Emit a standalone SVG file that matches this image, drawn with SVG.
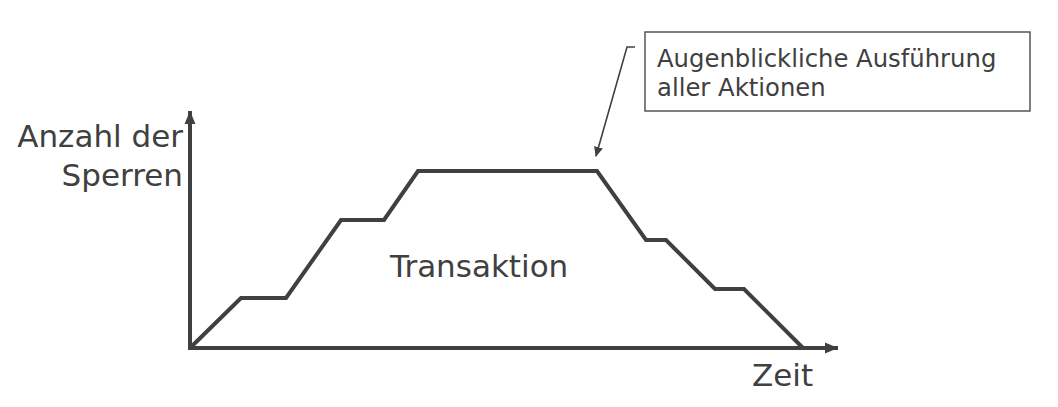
<svg xmlns="http://www.w3.org/2000/svg" width="1058" height="407" viewBox="0 0 1058 407">
<style>
.lbl{font-family:"DejaVu Sans",Verdana,sans-serif;fill:#404040}
.ax{stroke:#404040;stroke-width:4;fill:none}
.curve{stroke:#404040;stroke-width:4;fill:none;stroke-linejoin:miter}
.thin{stroke:#404040;stroke-width:1.6;fill:none}
</style>
<defs>
<marker id="ah" markerWidth="14" markerHeight="12" refX="13" refY="6" orient="auto" markerUnits="userSpaceOnUse">
<path d="M0,0.5 L13,6 L0,11.5 Z" fill="#404040"/>
</marker>
<marker id="ahs" markerWidth="10" markerHeight="10" refX="9" refY="5" orient="auto" markerUnits="userSpaceOnUse">
<path d="M0,0.5 L10,5 L0,9.5 Z" fill="#404040"/>
</marker>
</defs>
<rect width="1058" height="407" fill="#ffffff"/>
<g id="connectors">
<line class="ax" x1="190" y1="350" x2="190" y2="111" marker-end="url(#ah)"/>
<line class="ax" x1="188" y1="348" x2="838" y2="348" marker-end="url(#ah)"/>
<polyline class="curve" points="190,348 241,298 286,298 341,220 384,220 418,171 597,171 646,240 666,240 715,289 744,289 803,348"/>
<polyline class="thin" points="635,47 627,47 596,156" marker-end="url(#ahs)"/>
</g>
<g id="y-label">
<text class="lbl" font-size="31" text-anchor="end" x="183" y="147">Anzahl der</text>
<text class="lbl" font-size="31" text-anchor="end" x="183" y="186">Sperren</text>
</g>
<g id="x-label">
<text class="lbl" font-size="31" x="752" y="386">Zeit</text>
</g>
<g id="transaktion">
<text class="lbl" font-size="31" x="390" y="277">Transaktion</text>
</g>
<g id="note">
<rect x="645" y="32" width="385" height="79" fill="#ffffff" stroke="#555555" stroke-width="1.5"/>
<text class="lbl" font-size="24.3" x="657" y="67">Augenblickliche Ausführung</text>
<text class="lbl" font-size="24.3" x="657" y="96">aller Aktionen</text>
</g>
</svg>
